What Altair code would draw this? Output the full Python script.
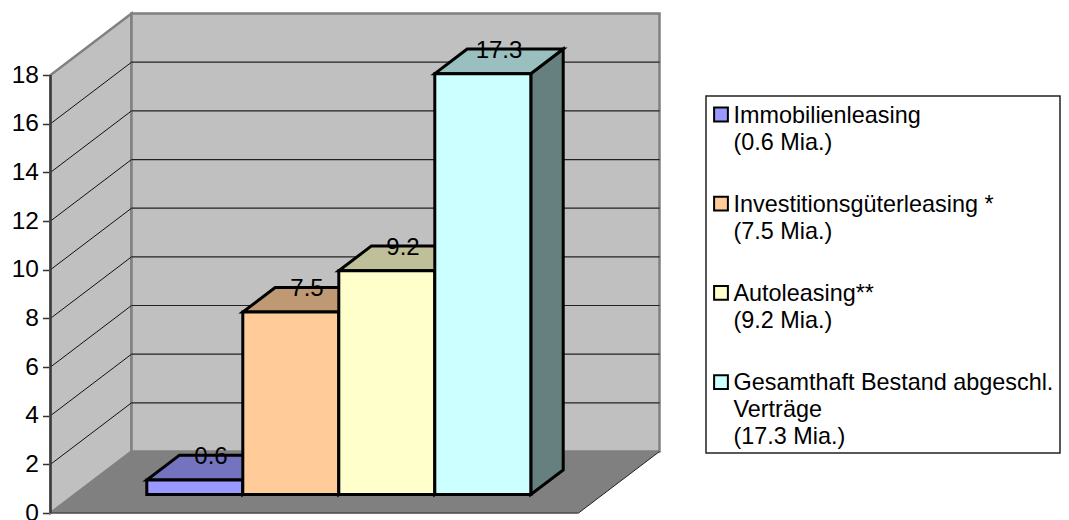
import altair as alt
import pandas as pd

categories = ["Immobilienleasing", "Investitionsgüterleasing *", "Autoleasing**", "Gesamthaft Bestand abgeschl."]
values = [0.6, 7.5, 9.2, 17.3]
value_labels = ["0.6", "7.5", "9.2", "17.3"]
legend_texts = [
    "Immobilienleasing\n(0.6 Mia.)",
    "Investitionsgüterleasing *\n(7.5 Mia.)",
    "Autoleasing**\n(9.2 Mia.)",
    "Gesamthaft Bestand abgeschl.\nVerträge\n(17.3 Mia.)",
]
front_colors = ["#9999ff", "#ffcc99", "#ffffcc", "#ccffff"]
top_colors = ["#7373bf", "#bf9973", "#bfbf99", "#99bfbf"]
side_colors = ["#4d4d80", "#806633", "#808066", "#668080"]
ticks = [0, 2, 4, 6, 8, 10, 12, 14, 16, 18]
grid_levels = [2, 4, 6, 8, 10, 12, 14, 16]

FONT = "Liberation Sans"
FS = 23.4
PX_X, PX_Y = 96.0, 24.33          # pixels per category unit / value unit
X0, Y0 = 50.5, 513.0              # page position of the front-left origin
W, H = 1010.5, 505
DX, DY = 81.0 / PX_X, 61.5 / PX_Y  # full depth vector in data units
N_CATS = 5.5
GAP = 0.75
D0, D1 = 0.3, 0.7                 # bar front / back depth


def px(x):
    return (x - X0) / PX_X


def py(y):
    return (Y0 - y) / PX_Y


xs = alt.Scale(domain=[0, W / PX_X], nice=False, zero=False)
ys = alt.Scale(domain=[0, H / PX_Y], nice=False, zero=False)
color_scale = alt.Scale(domain=categories, range=front_colors)
y_axis = alt.Axis(
    values=ticks, grid=False, domain=False, tickSize=8, tickColor="#333333", tickWidth=1.5,
    labelFont=FONT, labelFontSize=24.5, labelColor="black", labelPadding=4, title=None,
)


def X(f="x"):
    return alt.X(f"{f}:Q", scale=xs, axis=None)


def Y(f="y"):
    return alt.Y(f"{f}:Q", scale=ys, axis=y_axis, title=None)


# ---- walls and floor
left_wall = pd.DataFrame({"x": [0, DX], "y": [0, DY], "y2": [18, 18 + DY]})
back_wall = pd.DataFrame({"x": [DX], "x2": [N_CATS + DX], "y": [DY], "y2": [18 + DY]})
floor = pd.DataFrame({"y": [0, DY], "x": [0, DX], "x2": [N_CATS, N_CATS + DX]})

wall_style = dict(fill="#c0c0c0", stroke="#808080", strokeWidth=2.5)
l_left = alt.Chart(left_wall).mark_area(orient="vertical", **wall_style).encode(x=X(), y=Y(), y2="y2:Q")
l_back = alt.Chart(back_wall).mark_rect(**wall_style).encode(x=X(), x2="x2:Q", y=Y(), y2="y2:Q")
l_floor = alt.Chart(floor).mark_area(orient="horizontal", fill="#808080").encode(y=Y(), x=X(), x2="x2:Q")

# ---- gridlines and edges
grid_left = pd.DataFrame({"x": 0.0, "x2": DX, "y": grid_levels, "y2": [g + DY for g in grid_levels]})
grid_back = pd.DataFrame({"x": DX, "x2": N_CATS + DX, "y": [g + DY for g in grid_levels], "y2": [g + DY for g in grid_levels]})
edges = pd.DataFrame({
    "x": [0, 0, N_CATS],
    "x2": [0, N_CATS, N_CATS + DX],
    "y": [0, 0, 0],
    "y2": [18, 0, DY],
    "c": ["#3c3c3c", "#4a4a4a", "#222222"],
    "w": [2.5, 1.5, 1],
})


def rules(df, **kw):
    return alt.Chart(df).mark_rule(**kw).encode(x=X(), x2="x2:Q", y=Y(), y2="y2:Q")


l_grid_left = rules(grid_left, color="#111111", strokeWidth=1)
l_grid_back = rules(grid_back, color="#222222", strokeWidth=1.2)
l_edges = alt.Chart(edges).mark_rule().encode(
    x=X(), x2="x2:Q", y=Y(), y2="y2:Q",
    color=alt.Color("c:N", scale=None),
    strokeWidth=alt.StrokeWidth("w:Q", scale=None),
)

# ---- bars
rows_front, rows_top, rows_side, rows_text = [], [], [], []
for i, (cat, v, lab) in enumerate(zip(categories, values, value_labels)):
    u0, u1 = GAP + i, GAP + i + 1
    rows_front.append(dict(cat=cat, x=u0 + D0 * DX, x2=u1 + D0 * DX, y=D0 * DY, y2=v + D0 * DY))
    for d in (D0, D1):
        rows_top.append(dict(cat=cat, f=top_colors[i], y=v + d * DY, x=u0 + d * DX, x2=u1 + d * DX))
        rows_side.append(dict(cat=cat, f=side_colors[i], x=u1 + d * DX, y=d * DY, y2=v + d * DY))
    rows_text.append(dict(label=lab, x=(u0 + u1) / 2 + 0.5 * DX, y=v + D1 * DY))

bar_style = dict(stroke="black", strokeWidth=3, strokeJoin="miter")
l_side = alt.Chart(pd.DataFrame(rows_side)).mark_area(orient="vertical", **bar_style).encode(
    x=X(), y=Y(), y2="y2:Q", fill=alt.Fill("f:N", scale=None), detail="cat:N"
)
l_top = alt.Chart(pd.DataFrame(rows_top)).mark_area(orient="horizontal", **bar_style).encode(
    y=Y(), x=X(), x2="x2:Q", fill=alt.Fill("f:N", scale=None), detail="cat:N"
)
l_front = alt.Chart(pd.DataFrame(rows_front)).mark_rect(**bar_style).encode(
    x=X(), x2="x2:Q", y=Y(), y2="y2:Q",
    color=alt.Color("cat:N", scale=color_scale, legend=None),
)
l_text = alt.Chart(pd.DataFrame(rows_text)).mark_text(
    font=FONT, fontSize=24, color="black", baseline="middle", align="center", dy=2
).encode(x=X(), y=Y(), text="label:N")

# ---- legend, drawn as chart layers so the wrapped labels keep their line spacing
legend_box = pd.DataFrame({"x": [px(706)], "x2": [px(1060)], "y": [py(453)], "y2": [py(96)]})
l_box = alt.Chart(legend_box).mark_rect(fill="white", stroke="#222222", strokeWidth=1.5).encode(
    x=X(), x2="x2:Q", y=Y(), y2="y2:Q"
)
legend_rows = pd.DataFrame({
    "cat": categories,
    "text": legend_texts,
    "sx": [px(721)] * 4,
    "sy": [py(114.5 + 89.2 * i) for i in range(4)],
    "tx": [px(733.5)] * 4,
    "ty": [py(122.5 + 89.2 * i) for i in range(4)],
})
l_swatch = alt.Chart(legend_rows).mark_square(size=190, filled=True, stroke="black", strokeWidth=2, opacity=1).encode(
    x=X("sx"), y=Y("sy"), color=alt.Color("cat:N", scale=color_scale, legend=None)
)
l_legend_text = alt.Chart(legend_rows).mark_text(
    font=FONT, fontSize=FS, color="black", align="left", baseline="alphabetic", lineBreak="\n", lineHeight=27
).encode(x=X("tx"), y=Y("ty"), text="text:N")

chart = alt.layer(
    l_left, l_back, l_floor, l_grid_left, l_grid_back, l_edges,
    l_side, l_top, l_front, l_text, l_box, l_swatch, l_legend_text,
).properties(
    width=W, height=H,
    autosize=alt.AutoSizeParams(type="none"),
    padding={"left": X0 - 8, "top": 0, "right": 0, "bottom": 7},
    background="white",
).configure_view(strokeWidth=0)

chart.save("out.html", embed_options={"renderer": "svg", "actions": False})
